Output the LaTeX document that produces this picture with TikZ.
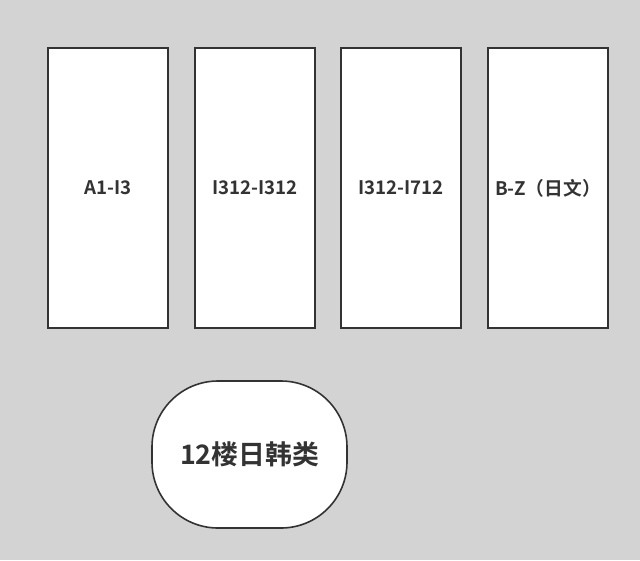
\documentclass[tikz,border=0pt]{standalone}
\usepackage{fontspec}
\setmainfont{Noto Sans CJK SC}[BoldFont={* Bold}]
\usetikzlibrary{positioning}
\definecolor{Back}{HTML}{D3D3D3}
\definecolor{Ink}{HTML}{333333}
\tikzset{
  shelf box/.style={draw=Ink,line width=1.6pt,fill=white,minimum width=120pt,
    minimum height=280pt,font=\fontsize{18.7}{22}\selectfont\bfseries,text=Ink,inner sep=0pt},
  floor box/.style={draw=Ink,line width=1.6pt,fill=white,rounded corners=66pt,
    minimum width=195pt,minimum height=147pt,font=\fontsize{26.8}{30}\selectfont\bfseries,
    text=Ink,inner sep=0pt}
}
\begin{document}
\begin{tikzpicture}[x=1pt,y=-1pt]
  \fill[Back] (0,0) rectangle (640,560);
  \useasboundingbox (0,0) rectangle (640,560);
  \node[shelf box] (shelfa) at (108,188) {A1-I3};
  \node[shelf box] (shelfb) at (255,188) {I312-I312};
  \node[shelf box] (shelfc) at (401,188) {I312-I712};
  \node[shelf box] (shelfd) at (548,188) {B-Z（日文）};
  \node[floor box] (floor) at (249.5,454.5) {12楼日韩类};
\end{tikzpicture}
\end{document}
